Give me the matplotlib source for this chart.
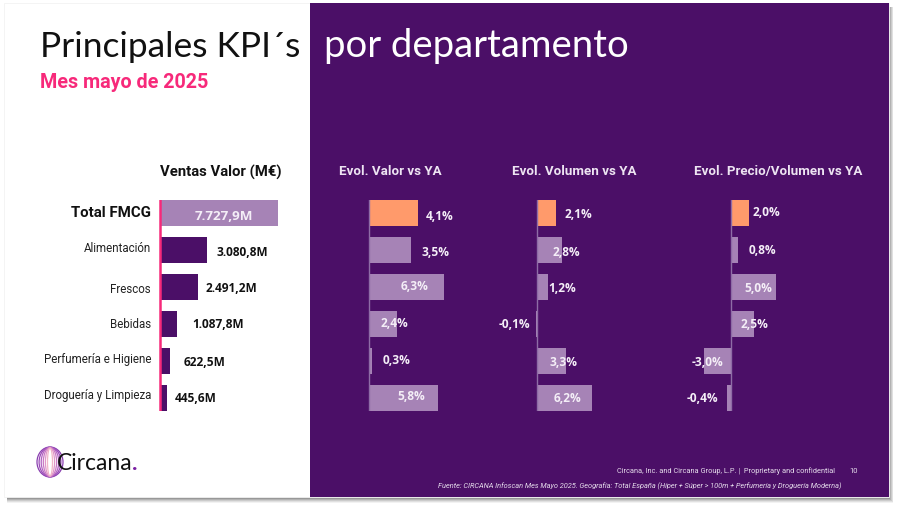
import matplotlib
matplotlib.use("Agg")
import matplotlib.pyplot as plt
from matplotlib.patches import Rectangle, Ellipse

W, H = 900, 510
purple = "#4B0F67"
lilac = "#A683B6"
orange = "#FF9A6B"
pink = "#F7297A"

categories = ["Total FMCG", "Alimentación", "Frescos", "Bebidas", "Perfumería e Higiene", "Droguería y Limpieza"]
ventas = [7727.9, 3080.8, 2491.2, 1087.8, 622.5, 445.6]
ventas_labels = ["7.727,9M", "3.080,8M", "2.491,2M", "1.087,8M", "622,5M", "445,6M"]
evol_valor = [4.1, 3.5, 6.3, 2.4, 0.3, 5.8]
evol_volumen = [2.1, 2.8, 1.2, -0.1, 3.3, 6.2]
evol_precio = [2.0, 0.8, 5.0, 2.5, -3.0, -0.4]

# label centres in pixels, the labels do not follow the bars in the slide
category_y = [213, 249, 290, 325, 360, 396]
ventas_label_x = [224, 242, 231, 218, 205, 196]
ventas_label_y = [217, 252, 289, 325, 362, 399]
valor_label_x = [440, 435, 415, 394, 397, 411]
valor_label_y = [216, 253, 287, 324, 361, 397]
volumen_label_x = [578, 566, 562, 514, 564, 567]
volumen_label_y = [215, 252, 289, 325, 362, 399]
precio_label_x = [766, 762, 758, 754, 708, 702]
precio_label_y = [212, 251, 289, 325, 362, 399]

plt.rcParams["font.family"] = ["Roboto", "DejaVu Sans"]
fig = plt.figure(figsize=(W / 100, H / 100), dpi=100, facecolor="white")

# background layer in pixel coordinates
bg = fig.add_axes([0, 0, 1, 1])
bg.set_xlim(0, W)
bg.set_ylim(H, 0)
bg.axis("off")

for grow, a in [(6, 0.05), (5, 0.07), (4, 0.09), (3, 0.12), (2, 0.14), (1, 0.16)]:
    bg.add_patch(Rectangle((7, 8), 882 + grow * 0.7, 490 + grow, fc="black", alpha=a, lw=0))
bg.add_patch(Rectangle((4, 4), 885, 494, fc="white", ec="#F2F2F2", lw=0.6))
bg.add_patch(Rectangle((310, 4), 579, 494, fc=purple, lw=0))

bg.text(40, 57, "Principales KPI´s", fontsize=25.5, family="Lato", color="#111111", va="baseline")
bg.text(324, 57, "por departamento", fontsize=27.5, family="Lato", color="white", va="baseline")
bg.text(40, 83, "Mes mayo de 2025", fontsize=14.2, weight="bold", color=pink, va="center")

bg.text(221, 172, "Ventas Valor (M€)", fontsize=10.7, weight="bold", color="#111111", ha="center", va="center")
for cx, t in [(390, "Evol. Valor vs YA"), (574, "Evol. Volumen vs YA"), (778, "Evol. Precio/Volumen vs YA")]:
    bg.text(cx, 172, t, fontsize=9.6, weight="bold", color="#EDE4F2", ha="center", va="center")

# logo
rings = ["#8A3FB0", "#9A4CB8", "#B060C0", "#C878C4", "#E096C8", "#F0B4C8"]
for i, c in enumerate(rings):
    bg.add_patch(Ellipse((50, 463), 26 - i * 4.2, 30 - i * 0.4, fc="none", ec=c, lw=0.9))
bg.text(57, 464, "Circana", fontsize=16.5, family="Lato", color="#111111", va="center")
bg.text(132, 464, ".", fontsize=16.5, family="Lato", weight="bold", color="#7A1FA2", va="center")

bg.text(835, 471, "Circana, Inc. and Circana Group, L.P. |  Proprietary and confidential", fontsize=5.3, color="#E6DCEC", ha="right", va="center")
bg.text(858, 471, "10", fontsize=5.5, color="#E6DCEC", ha="right", va="center")
bg.text(842, 486, "Fuente: CIRCANA Infoscan Mes Mayo 2025. Geografía: Total España (Híper + Súper > 100m + Perfumería y Droguería Moderna)",
        fontsize=5.3, style="italic", color="#E6DCEC", ha="right", va="center")


def bar_axes(values, colors, x0, x1, zero_px, scale, spine, spine_w=1.0):
    # axes from y=201 to y=412 px, x limits keep px per unit
    ax = fig.add_axes([x0 / W, 1 - 412 / H, (x1 - x0) / W, 211 / H])
    ax.patch.set_alpha(0)
    ax.barh(range(len(values)), values, height=0.71, color=colors, edgecolor="none")
    ax.set_xlim((x0 - zero_px) / scale, (x1 - zero_px) / scale)
    ax.set_ylim(5.35, -0.35)
    for s in ["top", "right", "bottom", "left"]:
        ax.spines[s].set_visible(False)
    ax.axvline(0, color=spine, lw=spine_w)
    ax.set_xticks([])
    ax.set_yticks([])
    return ax


bar_axes(ventas, [lilac] + [purple] * 5, 155, 300, 160, 118 / 7727.9, pink, 1.8)
bar_axes(evol_valor, [orange] + [lilac] * 5, 340, 470, 368.5, 12.0, "#8E6CA6")
bar_axes(evol_volumen, [orange] + [lilac] * 5, 500, 620, 537, 8.9, "#8E6CA6")
bar_axes(evol_precio, [orange] + [lilac] * 5, 680, 800, 731, 9.0, "#8E6CA6")

for i, t in enumerate(categories):
    if i == 0:
        fig.text(151 / W, 1 - category_y[i] / H, t, fontsize=10.8, weight="bold", color="#111111", ha="right", va="center")
    else:
        fig.text(151 / W, 1 - category_y[i] / H, t, fontsize=8.3, color="#222222", ha="right", va="center")

for i, t in enumerate(ventas_labels):
    col = "#F4EEF7" if i == 0 else "#111111"
    size = 9.7 if i == 0 else 8.6
    fig.text(ventas_label_x[i] / W, 1 - ventas_label_y[i] / H, t, fontsize=size, family="Open Sans", weight="bold",
             color=col, ha="center", va="center")

for xs, ys, vals in [(valor_label_x, valor_label_y, evol_valor),
                     (volumen_label_x, volumen_label_y, evol_volumen),
                     (precio_label_x, precio_label_y, evol_precio)]:
    for i, v in enumerate(vals):
        t = f"{v:.1f}%".replace(".", ",")
        fig.text(xs[i] / W, 1 - ys[i] / H, t, fontsize=8.6, family="Open Sans", weight="bold",
                 color="#F4EEF7", ha="center", va="center")

fig.savefig("out.png", dpi=100)
